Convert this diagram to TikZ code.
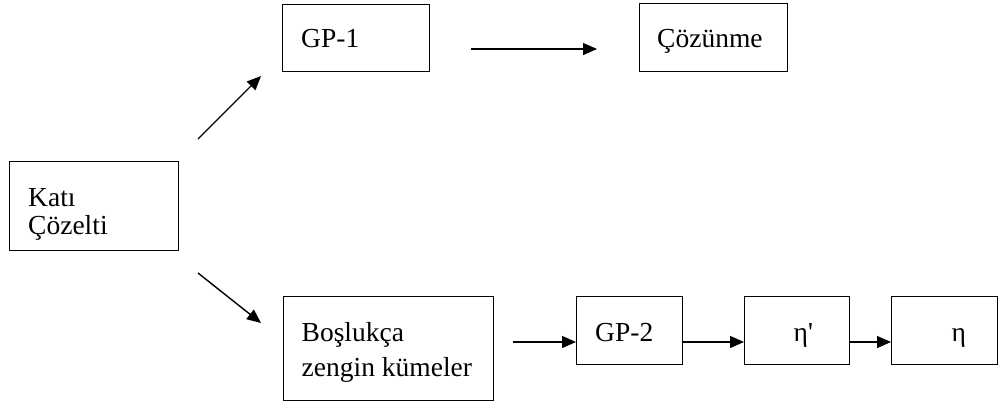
\documentclass[tikz,border=0pt]{standalone}
\usepackage{fontspec}
\setmainfont{Liberation Serif}
\usetikzlibrary{arrows.meta}
\begin{document}
\begin{tikzpicture}[x=1pt,y=-1pt,
  box/.style={draw, line width=1.3pt, anchor=north west, inner sep=0pt},
  txt/.style={anchor=base west, inner sep=0pt, font=\fontsize{27.5}{30}\selectfont},
  arr/.style={line width=1.4pt, -{Triangle[length=14pt,width=12pt]}}]
\useasboundingbox (0,0) rectangle (998,405);
% boxes
\node[box, minimum width=169pt, minimum height=89pt] (kati) at (9,161) {};
\node[box, minimum width=147pt, minimum height=67pt] (gp1) at (282,4) {};
\node[box, minimum width=148pt, minimum height=68pt] (coz) at (639,3) {};
\node[box, minimum width=210pt, minimum height=104pt] (bos) at (283,296) {};
\node[box, minimum width=106pt, minimum height=68pt] (gp2) at (576,296) {};
\node[box, minimum width=105pt, minimum height=68pt] (etap) at (744,296) {};
\node[box, minimum width=106pt, minimum height=68pt] (eta) at (891,296) {};
% texts
\node[txt] (t1) at (28,206.7) {Katı};
\node[txt] (t2) at (28,234) {Çözelti};
\node[txt] (t3) at (301,47.3) {GP-1};
\node[txt] (t4) at (657,47) {Çözünme};
\node[txt] (t5) at (301.5,341.7) {Boşlukça};
\node[txt] (t6) at (301.5,376) {zengin kümeler};
\node[txt] (t7) at (595,341) {GP-2};
\node[txt] (t8) at (793.5,341.7) {η\textquotesingle};
\node[txt] (t9) at (951.5,341.7) {η};
% connectors
\coordinate (u0) at (198,139);
\coordinate (u1) at (261,76);
\coordinate (d0) at (198,273);
\coordinate (d1) at (261,323);
\coordinate (r0) at (471,49);
\coordinate (r1) at (597,49);
\coordinate (b0) at (513,342);
\draw[arr] (u0) -- (u1);
\draw[arr] (d0) -- (d1);
\draw[arr] (r0) -- (r1);
\draw[arr] (b0) -- (b0 -| gp2.west);
\draw[arr] (gp2.east |- b0) -- (etap.west |- b0);
\draw[arr] (etap.east |- b0) -- (eta.west |- b0);
\end{tikzpicture}
\end{document}
